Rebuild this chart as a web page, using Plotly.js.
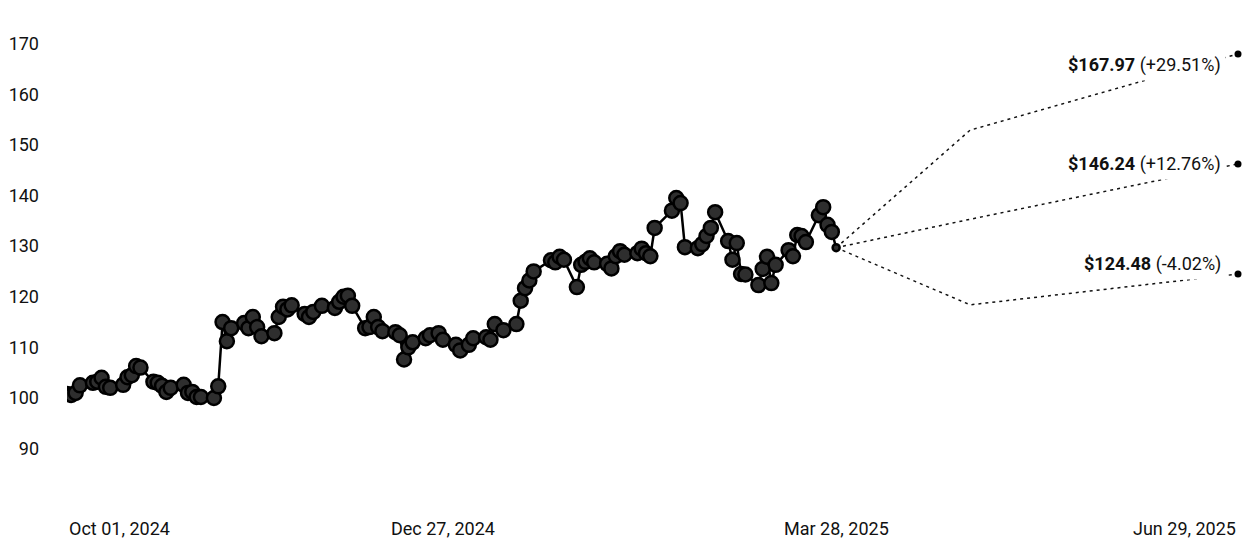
<!DOCTYPE html>
<html>
<head>
<meta charset="utf-8">
<script src="https://cdn.plot.ly/plotly-3.0.1.min.js"></script>
<style>html,body{margin:0;padding:0;background:#fff;}#chart{width:1250px;height:550px;}</style>
</head>
<body>
<div id="chart"></div>
<script>
const dates = [
'2024-10-01','2024-10-02','2024-10-03','2024-10-04','2024-10-07','2024-10-08','2024-10-09','2024-10-10','2024-10-11','2024-10-14',
'2024-10-15','2024-10-16','2024-10-17','2024-10-18','2024-10-21','2024-10-22','2024-10-23','2024-10-24','2024-10-25','2024-10-28',
'2024-10-29','2024-10-30','2024-10-31','2024-11-01','2024-11-04','2024-11-05','2024-11-06','2024-11-07','2024-11-08','2024-11-11',
'2024-11-12','2024-11-13','2024-11-14','2024-11-15','2024-11-18','2024-11-19','2024-11-20','2024-11-21','2024-11-22','2024-11-25',
'2024-11-26','2024-11-27','2024-11-29','2024-12-02','2024-12-03','2024-12-04','2024-12-05','2024-12-06','2024-12-09','2024-12-10',
'2024-12-11','2024-12-12','2024-12-13','2024-12-16','2024-12-17','2024-12-18','2024-12-19','2024-12-20','2024-12-23','2024-12-24',
'2024-12-26','2024-12-27','2024-12-30','2024-12-31','2025-01-02','2025-01-03','2025-01-06','2025-01-07','2025-01-08','2025-01-10',
'2025-01-13','2025-01-14','2025-01-15','2025-01-16','2025-01-17','2025-01-21','2025-01-22','2025-01-23','2025-01-24','2025-01-27',
'2025-01-28','2025-01-29','2025-01-30','2025-01-31','2025-02-03','2025-02-04','2025-02-05','2025-02-06','2025-02-07','2025-02-10',
'2025-02-11','2025-02-12','2025-02-13','2025-02-14','2025-02-18','2025-02-19','2025-02-20','2025-02-21','2025-02-24','2025-02-25',
'2025-02-26','2025-02-27','2025-02-28','2025-03-03','2025-03-04','2025-03-05','2025-03-06','2025-03-07','2025-03-10','2025-03-11',
'2025-03-12','2025-03-13','2025-03-14','2025-03-17','2025-03-18','2025-03-19','2025-03-20','2025-03-21','2025-03-24','2025-03-25',
'2025-03-26','2025-03-27','2025-03-28'
];
const prices = [
100.8,100.6,101.0,102.5,103.0,103.2,104.0,102.2,102.0,102.6,
104.1,104.5,106.3,106.0,103.2,103.0,102.4,101.2,102.0,102.6,
101.0,101.2,100.2,100.2,100.0,102.3,115.0,111.2,113.8,114.8,
113.8,116.0,114.0,112.2,112.8,116.0,118.0,117.5,118.3,116.6,
116.0,117.0,118.2,117.8,119.0,120.0,120.2,118.2,113.8,114.0,
116.0,114.0,113.2,113.0,112.4,107.6,110.0,111.0,111.8,112.4,
112.8,111.5,110.5,109.4,110.5,111.8,112.0,111.5,114.6,113.4,
114.6,119.2,121.7,123.2,125.0,127.2,126.8,127.9,127.3,121.9,
126.3,126.9,127.6,126.8,126.5,125.6,128.0,129.0,128.3,128.6,
129.5,128.6,128.0,133.6,137.0,139.5,138.5,129.8,129.6,130.4,
132.0,133.6,136.7,131.0,127.3,130.6,124.5,124.4,122.3,125.5,
127.9,122.7,126.3,129.2,128.0,132.2,132.0,130.8,136.1,137.7,
134.2,132.8,129.69
];

// Forecast scenarios: start (last close), intermediate, end
const forecastDates = ['2025-03-28', '2025-04-28', '2025-06-29'];
const forecastHigh = [129.69, 152.9, 167.97];
const forecastMid  = [129.69, 135.3, 146.24];
const forecastLow  = [129.69, 118.4, 124.48];
const forecastLabels = ['$167.97', '$146.24', '$124.48'];
const forecastPct = ['(+29.51%)', '(+12.76%)', '(-4.02%)'];

const yTicks = [90, 100, 110, 120, 130, 140, 150, 160, 170];
const xTickDates = ['2024-10-01', '2024-12-27', '2025-03-28', '2025-06-29'];
const xTickText = ['Oct 01, 2024', 'Dec 27, 2024', 'Mar 28, 2025', 'Jun 29, 2025'];

const FONT = 'Roboto, "Liberation Sans", Arial, sans-serif';
const last = prices.length - 1;
const markerSizes = prices.map((_, i) => (i === last ? 7 : 14));

const traces = [];
[forecastHigh, forecastMid, forecastLow].forEach(series => {
  traces.push({
    x: forecastDates, y: series, type: 'scatter', mode: 'lines',
    line: {color: '#111', width: 1.5, dash: '3px,4px'},
    hoverinfo: 'skip', showlegend: false
  });
});
traces.push({
  x: dates, y: prices, type: 'scatter', mode: 'lines+markers',
  line: {color: '#000', width: 2.5},
  marker: {size: markerSizes, color: '#2e2e2e', opacity: 1, line: {color: '#000', width: 2.5}},
  showlegend: false
});
const ends = [forecastHigh, forecastMid, forecastLow].map(s => s[s.length - 1]);
traces.push({
  x: ends.map(() => forecastDates[forecastDates.length - 1]), y: ends,
  type: 'scatter', mode: 'markers',
  marker: {size: 7, color: '#000', opacity: 1}, showlegend: false, cliponaxis: false
});

const annotations = [];
const yShifts = [-11, 0, 10];
ends.forEach((v, i) => {
  annotations.push({
    x: forecastDates[forecastDates.length - 1], y: v, xref: 'x', yref: 'y',
    text: '<b>' + forecastLabels[i] + '</b> ' + forecastPct[i],
    showarrow: false, xanchor: 'right', yanchor: 'middle',
    xshift: -12, yshift: yShifts[i],
    bgcolor: '#ffffff', borderpad: 4,
    font: {family: FONT, size: 18, color: '#111'}
  });
});
const anchors = ['left', 'center', 'center', 'right'];
xTickDates.forEach((d, i) => {
  annotations.push({
    x: d, y: 0, xref: 'x', yref: 'paper', text: xTickText[i],
    showarrow: false, xanchor: anchors[i], yanchor: 'top', yshift: -16,
    font: {family: FONT, size: 18, color: '#111'}
  });
});

const layout = {
  width: 1250, height: 550,
  margin: {l: 67, r: 12, t: 10, b: 50},
  paper_bgcolor: '#fff', plot_bgcolor: '#fff',
  font: {family: FONT, size: 18, color: '#111'},
  xaxis: {
    type: 'date', range: ['2024-10-01', '2025-06-29'],
    showgrid: false, zeroline: false, showline: false, showticklabels: false, ticks: ''
  },
  yaxis: {
    range: [79.85, 176.64], tickvals: yTicks, ticktext: yTicks.map(String),
    showgrid: false, zeroline: false, showline: false, ticks: '',
    ticklabelstandoff: 27,
    tickfont: {family: FONT, size: 18, color: '#111'}
  },
  annotations: annotations,
  showlegend: false
};

Plotly.newPlot('chart', traces, layout, {displayModeBar: false, staticPlot: true});
</script>
</body>
</html>
